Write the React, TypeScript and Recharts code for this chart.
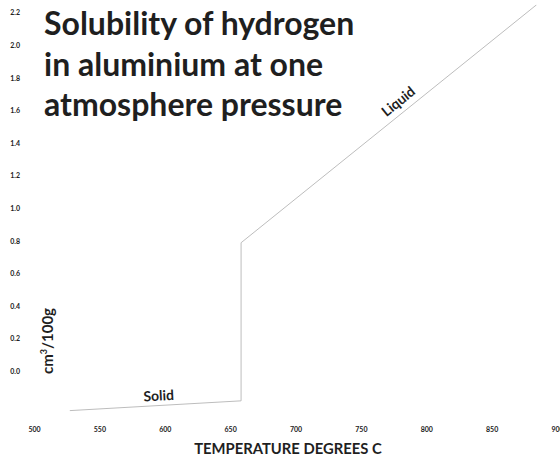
import { Line, LineChart, ReferenceDot, XAxis, YAxis } from "recharts";

// solubility curve
const temps = [527, 658, 658, 884];
const solubility = [-0.24, -0.18, 0.79, 2.25];

const xTicks = [500, 550, 600, 650, 700, 750, 800, 850, 900];
const yTicks = [0, 0.2, 0.4, 0.6, 0.8, 1.0, 1.2, 1.4, 1.6, 1.8, 2.0, 2.2];

// phase annotations (data coords + angle)
const phaseNames = ["Solid", "Liquid"];
const phaseX = [595, 778];
const phaseY = [-0.145, 1.66];
const phaseAngle = [-3, -39];

const FONT = "Lato, 'Open Sans', sans-serif";
const INK = "#1f1f1f";
const LINE = "#bdbdbd";

const data = temps.map((t, i) => ({ t, s: solubility[i] }));

const XTick = ({ x, y, payload }: any) => (
  <text x={x} y={y} dy={4} textAnchor="middle" fontSize={7} fontWeight={700} fill="#222" fontFamily={FONT}>
    {payload.value}
  </text>
);

const YTick = ({ y, payload }: any) => (
  <text x={20} y={y} dy={2.5} textAnchor="end" fontSize={7} fontWeight={700} fill="#222" fontFamily={FONT}>
    {Number(payload.value).toFixed(1)}
  </text>
);

const phaseShape = (i: number) => (props: any) => (
  <text
    x={props.cx}
    y={props.cy}
    textAnchor="middle"
    dominantBaseline="central"
    fontSize={14}
    fontWeight={700}
    fill={INK}
    fontFamily={FONT}
    transform={`rotate(${phaseAngle[i]} ${props.cx} ${props.cy})`}
  >
    {phaseNames[i]}
  </text>
);

export default function App() {
  return (
    <div style={{ position: "absolute", left: 0, top: 0, width: 560, height: 457, overflow: "hidden", background: "#fff" }}>
      <LineChart width={600} height={457} data={data} margin={{ top: 4.75, right: 42.5, left: 0, bottom: 16.6 }}>
        <XAxis
          dataKey="t"
          type="number"
          domain={[500, 900]}
          ticks={xTicks}
          tick={<XTick />}
          axisLine={false}
          tickLine={false}
          height={20}
          interval={0}
        />
        <YAxis
          type="number"
          domain={[-0.3, 2.25]}
          ticks={yTicks}
          tick={<YTick />}
          axisLine={false}
          tickLine={false}
          width={34.5}
          allowDataOverflow
          interval={0}
        />
        <Line type="linear" dataKey="s" stroke={LINE} strokeWidth={1} dot={false} isAnimationActive={false} />
        {phaseNames.map((n, i) => (
          <ReferenceDot key={n} x={phaseX[i]} y={phaseY[i]} r={1} shape={phaseShape(i)} />
        ))}
      </LineChart>

      <div
        style={{
          position: "absolute",
          left: 44,
          top: 3,
          fontFamily: FONT,
          fontWeight: 700,
          fontSize: 32,
          lineHeight: "40.5px",
          color: INK,
          whiteSpace: "nowrap",
        }}
      >
        Solubility of hydrogen
        <br />
        in aluminium at one
        <br />
        atmosphere pressure
      </div>

      <div
        style={{
          position: "absolute",
          left: 188,
          top: 439,
          width: 200,
          textAlign: "center",
          fontFamily: FONT,
          fontWeight: 700,
          fontSize: 14.8,
          lineHeight: "18px",
          color: INK,
          whiteSpace: "nowrap",
        }}
      >
        TEMPERATURE DEGREES C
      </div>

      <div
        style={{
          position: "absolute",
          left: 47 - 60,
          top: 341 - 10,
          width: 120,
          height: 20,
          lineHeight: "20px",
          textAlign: "center",
          transform: "rotate(-90deg)",
          fontFamily: FONT,
          fontWeight: 700,
          fontSize: 15,
          color: INK,
          whiteSpace: "nowrap",
        }}
      >
        cm<sup style={{ fontSize: 9, lineHeight: 0 }}>3</sup>/100g
      </div>
    </div>
  );
}
